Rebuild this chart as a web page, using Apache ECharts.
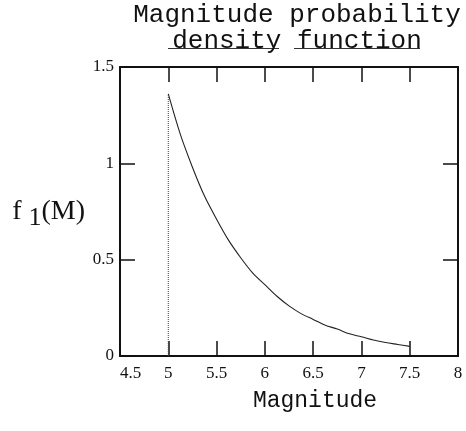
<!DOCTYPE html>
<html>
<head>
<meta charset="utf-8">
<script src="https://cdn.jsdelivr.net/npm/echarts@6/dist/echarts.min.js"></script>
<style>
  html, body { margin: 0; padding: 0; background: #fff; }
  #chart { width: 466px; height: 431px; }
</style>
</head>
<body>
<div id="chart"></div>
<script>
// Magnitude values (M) and the probability density f1(M) along the curve
const magnitudes = [5.0, 5.125, 5.25, 5.375, 5.5, 5.625, 5.75, 5.875, 6.0, 6.125, 6.25, 6.375,
                    6.5, 6.625, 6.75, 6.875, 7.0, 7.125, 7.25, 7.375, 7.5];
const density    = [1.36, 1.15, 0.98, 0.83, 0.71, 0.60, 0.51, 0.43, 0.37, 0.31, 0.26, 0.22,
                    0.19, 0.16, 0.14, 0.115, 0.10, 0.083, 0.07, 0.06, 0.05];

// Lower magnitude bound, drawn as a dotted vertical line
const lowerBound = [[5.0, 0], [5.0, 1.36]];

// Axis ticks
const xTicks = { min: 4.5, max: 8, step: 0.5 };
const yTicks = { min: 0, max: 1.5, step: 0.5 };

const titleLines = ['Magnitude probability', 'density function'];
const xName = 'Magnitude';

const curve = magnitudes.map((m, i) => [m, density[i]]);

const chart = echarts.init(document.getElementById('chart'), null, { renderer: 'canvas' });

const serif = 'Liberation Serif';
const mono = 'Liberation Mono';

const tickStyle = { show: true, inside: true, length: 15, lineStyle: { color: '#111', width: 1.5 } };
const lineStyle = { show: true, onZero: false, lineStyle: { color: '#111', width: 2 } };

chart.setOption({
  backgroundColor: '#fff',
  animation: false,
  title: {
    text: titleLines.join('\n'),
    left: 292,
    top: -3,
    textAlign: 'center',
    textStyle: {
      fontFamily: mono,
      fontSize: 26,
      fontWeight: 'normal',
      color: '#111',
      lineHeight: 26
    }
  },
  graphic: [
    // underlines under the second title line
    { type: 'line', shape: { x1: 168, y1: 48.5, x2: 279, y2: 48.5 }, style: { stroke: '#333', lineWidth: 1 } },
    { type: 'line', shape: { x1: 294, y1: 48.5, x2: 420, y2: 48.5 }, style: { stroke: '#333', lineWidth: 1 } }
  ],
  grid: { left: 120, right: 8, top: 67, bottom: 75 },
  xAxis: [
    {
      type: 'value',
      position: 'bottom',
      min: xTicks.min, max: xTicks.max, interval: xTicks.step,
      axisLine: lineStyle,
      axisTick: tickStyle,
      splitLine: { show: false },
      axisLabel: {
        color: '#111', fontFamily: serif, fontSize: 17, margin: 9,
        alignMinLabel: 'left'
      },
      name: xName,
      nameLocation: 'middle',
      nameGap: 33,
      nameTextStyle: { fontFamily: mono, fontSize: 23, color: '#111', padding: [0, 0, 0, 52] }
    },
    {
      type: 'value',
      position: 'top',
      min: xTicks.min, max: xTicks.max, interval: xTicks.step,
      axisLine: lineStyle,
      axisTick: tickStyle,
      axisLabel: { show: false },
      splitLine: { show: false }
    }
  ],
  yAxis: [
    {
      type: 'value',
      position: 'left',
      min: yTicks.min, max: yTicks.max, interval: yTicks.step,
      axisLine: lineStyle,
      axisTick: tickStyle,
      splitLine: { show: false },
      axisLabel: {
        color: '#111', fontFamily: serif, fontSize: 17, margin: 6,
        formatter: v => String(v)
      },
      name: '{f|f }{s|1}{p|(M)}',
      nameLocation: 'middle',
      nameRotate: 0,
      nameGap: 35,
      nameTextStyle: {
        rich: {
          f: { fontFamily: serif, fontSize: 28, color: '#111' },
          s: { fontFamily: serif, fontSize: 26, color: '#111', padding: [14, 0, 0, 0] },
          p: { fontFamily: serif, fontSize: 28, color: '#111' }
        }
      }
    },
    {
      type: 'value',
      position: 'right',
      min: yTicks.min, max: yTicks.max, interval: yTicks.step,
      axisLine: lineStyle,
      axisTick: tickStyle,
      axisLabel: { show: false },
      splitLine: { show: false }
    }
  ],
  series: [
    {
      type: 'line',
      data: curve,
      smooth: 0.3,
      showSymbol: false,
      lineStyle: { color: '#222', width: 1.1 }
    },
    {
      type: 'line',
      data: lowerBound,
      showSymbol: false,
      lineStyle: { color: '#444', width: 1, type: 'dotted' }
    }
  ]
});
</script>
</body>
</html>
